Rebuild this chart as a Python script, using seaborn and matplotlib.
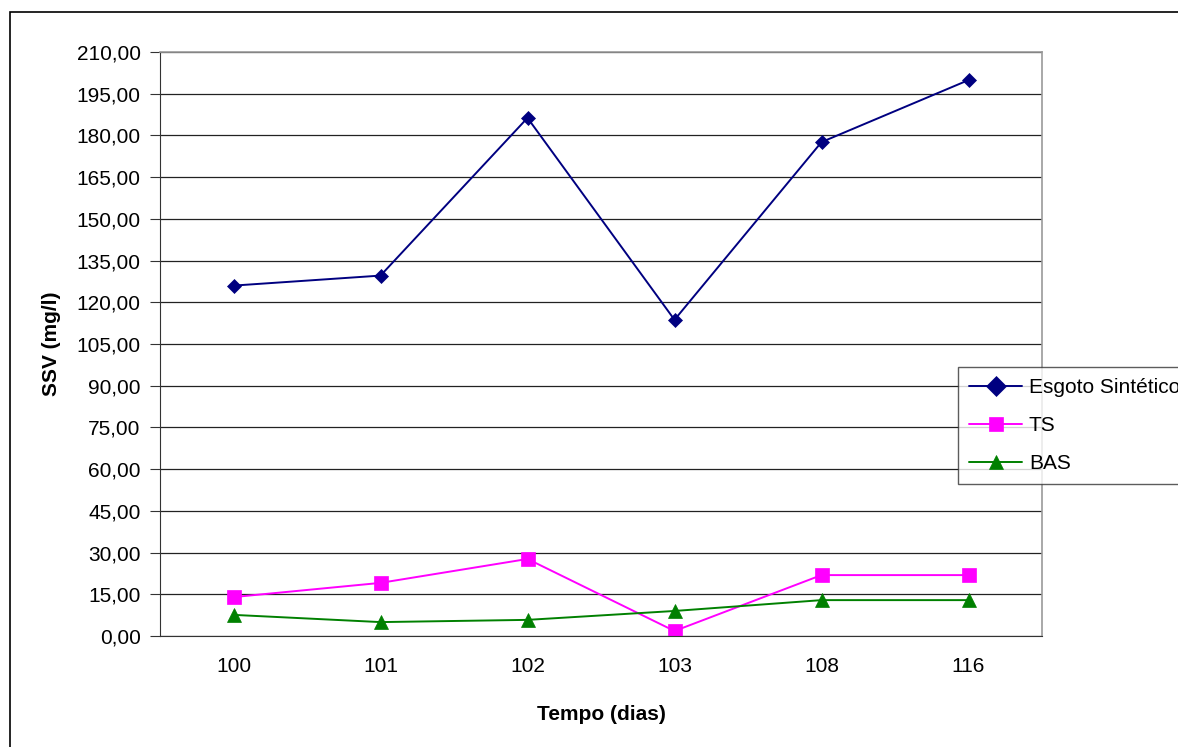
import pandas as pd
import matplotlib.pyplot as plt
import seaborn as sns
from matplotlib.patches import Rectangle
from matplotlib.ticker import FuncFormatter

# values
dias = ['100', '101', '102', '103', '108', '116']
esgoto = [126.0, 129.6, 186.3, 113.7, 177.6, 199.9]
ts = [14.0, 19.1, 27.7, 1.8, 21.9, 21.9]
bas = [7.6, 5.0, 5.8, 9.0, 12.9, 12.9]
series = ['Esgoto Sintético', 'TS', 'BAS']
colors = ['#000080', '#FF00FF', '#008000']
markers = ['D', 's', '^']
yticks = list(range(0, 211, 15))

df = pd.DataFrame({'Tempo': dias, series[0]: esgoto, series[1]: ts, series[2]: bas})
long_df = df.melt(id_vars='Tempo', var_name='serie', value_name='SSV')

sns.set_style('white')
plt.rcParams['font.family'] = ['Liberation Sans', 'DejaVu Sans']
plt.rcParams['text.color'] = 'black'
plt.rcParams['xtick.color'] = 'black'
plt.rcParams['ytick.color'] = 'black'
plt.rcParams['axes.labelcolor'] = 'black'

fig = plt.figure(figsize=(11.78, 7.47), dpi=100)
ax = fig.add_axes([160 / 1178, 1 - 636 / 747, (1042 - 160) / 1178, (636 - 52) / 747])

sns.lineplot(data=long_df, x='Tempo', y='SSV', hue='serie', style='serie',
             hue_order=series, style_order=series,
             palette=dict(zip(series, colors)), markers=dict(zip(series, markers)),
             dashes=False, sort=False, ax=ax, linewidth=1.4,
             markersize=10, markeredgewidth=0.5, legend=False)
for line, s in zip(ax.lines, series):
    line.set_markeredgecolor(line.get_color())
    line.set_label(s)
    if s == 'Esgoto Sintético':
        line.set_markersize(7.5)

ax.set_xlim(-0.5, 5.5)
ax.set_ylim(0, 210)
ax.set_yticks(yticks)
ax.yaxis.set_major_formatter(FuncFormatter(lambda v, p: f'{v:.2f}'.replace('.', ',')))
ax.set_xticks(range(len(dias)))
ax.set_xticklabels(dias)
ax.set_xticks([i - 0.5 for i in range(len(dias) + 1)], minor=True)
ax.tick_params(axis='x', which='major', length=0, pad=15, labelsize=15)
ax.tick_params(axis='x', which='minor', length=7, width=0.8, color='#333333', direction='out')
ax.tick_params(axis='y', length=7, width=0.8, color='#333333', direction='out', labelsize=15, pad=7)
ax.tick_params(left=True, bottom=True)

ax.grid(axis='y', color='#222222', linewidth=0.9)
ax.set_axisbelow(True)
for side in ['top', 'right']:
    ax.spines[side].set_color('#999999')
    ax.spines[side].set_linewidth(1.2)
ax.spines['left'].set_color('#333333')
ax.spines['bottom'].set_color('#333333')

ax.set_xlabel('Tempo (dias)', fontsize=15, fontweight='bold', labelpad=21)
ax.set_ylabel('SSV (mg/l)', fontsize=15, fontweight='bold', labelpad=11)

leg = ax.legend(loc='upper left', bbox_to_anchor=(958 / 1178, 1 - 367 / 747),
                bbox_transform=fig.transFigure, frameon=True, fancybox=False,
                fontsize=15, handlelength=2.5, borderpad=0.55, labelspacing=0.9,
                handletextpad=0.35, borderaxespad=0)
leg.get_frame().set_edgecolor('#333333')
leg.get_frame().set_linewidth(1.0)
for h in leg.legend_handles:
    h.set_markersize(10)

# outer chart frame (only left and top edges visible)
fig.patches.append(Rectangle((9.5 / 1178, -0.1), 1.2, 1 - 12 / 747 + 0.1,
                             transform=fig.transFigure, fill=False,
                             edgecolor='black', linewidth=1.2))

fig.savefig('out.png', dpi=100)
